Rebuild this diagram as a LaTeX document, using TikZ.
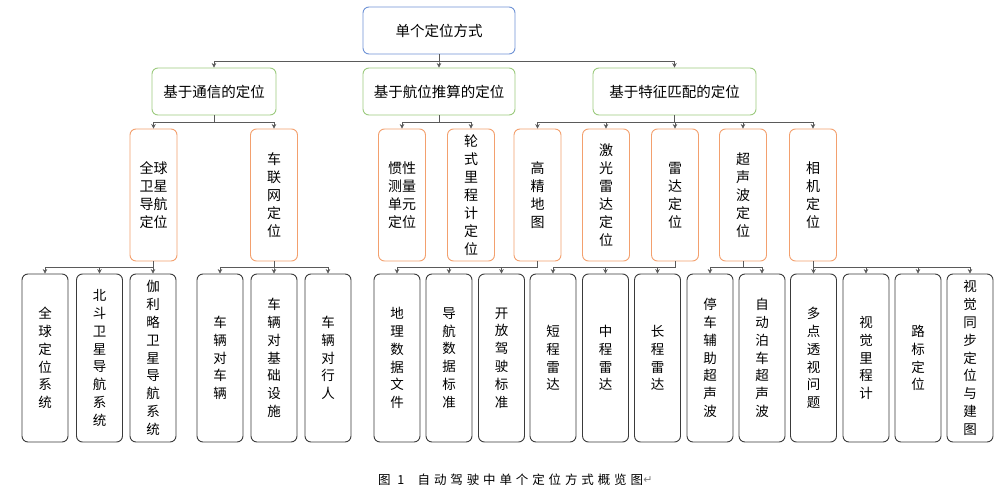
\documentclass[tikz,border=0pt]{standalone}
\usepackage{fontspec}
\setmainfont{Noto Sans CJK SC}
\newfontfamily\capfont[LetterSpace=31]{Noto Sans CJK SC}
\newfontfamily\markfont{DejaVu Sans}
\usetikzlibrary{arrows.meta}
\definecolor{rootblue}{HTML}{6F93D6}
\definecolor{groupgreen}{HTML}{9CCB7E}
\definecolor{methodorange}{HTML}{F3A06E}
\definecolor{leafgray}{HTML}{3A3A3A}
\definecolor{linkgray}{HTML}{5A5A5A}

\begin{document}
\begin{tikzpicture}[x=1pt,y=-1pt,>={Stealth[length=4.5pt,width=4.5pt]},
		box/.style={draw,rounded corners=6pt,line width=0.9pt,fill=white,align=center,
			inner sep=0pt,font=\fontsize{14.5}{18}\selectfont},
		root node/.style={box,draw=rootblue,minimum width=152pt,minimum height=47pt},
		group node/.style={box,draw=groupgreen,minimum height=47pt},
		method node/.style={box,draw=methodorange,minimum width=47pt,minimum height=132pt,
			font=\fontsize{14}{18}\selectfont},
		leaf node/.style={box,draw=leafgray,minimum width=46pt,minimum height=168pt,
			font=\fontsize{13.5}{17.8}\selectfont},
		link/.style={->,draw=linkgray,line width=0.6pt}]
		\useasboundingbox[fill=white] (0,0) rectangle (1003,494);
		% top
		\node[root node] (root) at (439,30.5) {单个定位方式};
		\node[group node,minimum width=124pt] (comm) at (214,91.5) {基于通信的定位};
		\node[group node,minimum width=152pt] (dead) at (439,91.5) {基于航位推算的定位};
		\node[group node,minimum width=163pt] (feat) at (674.5,91.5) {基于特征匹配的定位};
		% second row
		\node[method node] (gnss) at (153.5,195) {全球\\卫星\\导航\\定位};
		\node[method node] (v2x) at (274,195) {车\\联\\网\\定\\位};
		\node[method node] (imu) at (402,195) {惯性\\测量\\单元\\定位};
		\node[method node] (odo) at (471,195) {轮\\式\\里\\程\\计\\定\\位};
		\node[method node] (hdmap) at (537.5,195) {高\\精\\地\\图};
		\node[method node] (lidar) at (606,195) {激\\光\\雷\\达\\定\\位};
		\node[method node] (radar) at (675,195) {雷\\达\\定\\位};
		\node[method node] (sonar) at (743,195) {超\\声\\波\\定\\位};
		\node[method node] (camera) at (813,195) {相\\机\\定\\位};
		% third row
		\node[leaf node] (gps) at (45,358) {全\\球\\定\\位\\系\\统};
		\node[leaf node] (bds) at (99.5,358) {北\\斗\\卫\\星\\导\\航\\系\\统};
		\node[leaf node] (galileo) at (153,358) {伽\\利\\略\\卫\\星\\导\\航\\系\\统};
		\node[leaf node] (v2v) at (220,358) {车\\辆\\对\\车\\辆};
		\node[leaf node] (v2i) at (274,358) {车\\辆\\对\\基\\础\\设\\施};
		\node[leaf node] (v2p) at (328,358) {车\\辆\\对\\行\\人};
		\node[leaf node] (gdf) at (397,358) {地\\理\\数\\据\\文\\件};
		\node[leaf node] (nds) at (449,358) {导\\航\\数\\据\\标\\准};
		\node[leaf node] (opendrive) at (501.5,358) {开\\放\\驾\\驶\\标\\准};
		\node[leaf node] (srr) at (553,358) {短\\程\\雷\\达};
		\node[leaf node] (mrr) at (605.5,358) {中\\程\\雷\\达};
		\node[leaf node] (lrr) at (657.5,358) {长\\程\\雷\\达};
		\node[leaf node] (upa) at (710,358) {停\\车\\辅\\助\\超\\声\\波};
		\node[leaf node] (apa) at (762,358) {自\\动\\泊\\车\\超\\声\\波};
		\node[leaf node] (pnp) at (813.5,358) {多\\点\\透\\视\\问\\题};
		\node[leaf node] (vo) at (866,358) {视\\觉\\里\\程\\计};
		\node[leaf node] (landmark) at (918,358) {路\\标\\定\\位};
		\node[leaf node] (vslam) at (970,358) {视\\觉\\同\\步\\定\\位\\与\\建\\图};
		% links
		\foreach \c in {comm,dead,feat}
			\draw[link] (root.south) -- ++(0,7) -| (\c.north);
		\foreach \c in {gnss,v2x}
			\draw[link] (comm.south) -- ++(0,7) -| (\c.north);
		\foreach \c in {imu,odo}
			\draw[link] (dead.south) -- ++(0,7) -| (\c.north);
		\foreach \c in {hdmap,lidar,radar,sonar,camera}
			\draw[link] (feat.south) -- ++(0,7) -| (\c.north);
		\foreach \c in {gps,bds,galileo}
			\draw[link] (gnss.south) -- ++(0,6) -| (\c.north);
		\foreach \c in {v2v,v2i,v2p}
			\draw[link] (v2x.south) -- ++(0,6) -| (\c.north);
		\foreach \c in {gdf,nds,opendrive}
			\draw[link] (hdmap.south) -- ++(0,6) -| (\c.north);
		\foreach \c in {srr,mrr,lrr}
			\draw[link] (radar.south) -- ++(0,6) -| (\c.north);
		\foreach \c in {upa,apa}
			\draw[link] (sonar.south) -- ++(0,6) -| (\c.north);
		\foreach \c in {pnp,vo,landmark,vslam}
			\draw[link] (camera.south) -- ++(0,6) -| (\c.north);
		% caption
		\node[anchor=west,inner sep=0pt,font=\capfont\fontsize{12.5}{14}\selectfont] (caption) at (378,480) {图 1~ 自动驾驶中单个定位方式概览图};
		\node[anchor=west,inner sep=0pt,text=gray,font=\markfont\fontsize{11}{13}\selectfont] (mark) at (caption.east) {↵};
\end{tikzpicture}
\end{document}
